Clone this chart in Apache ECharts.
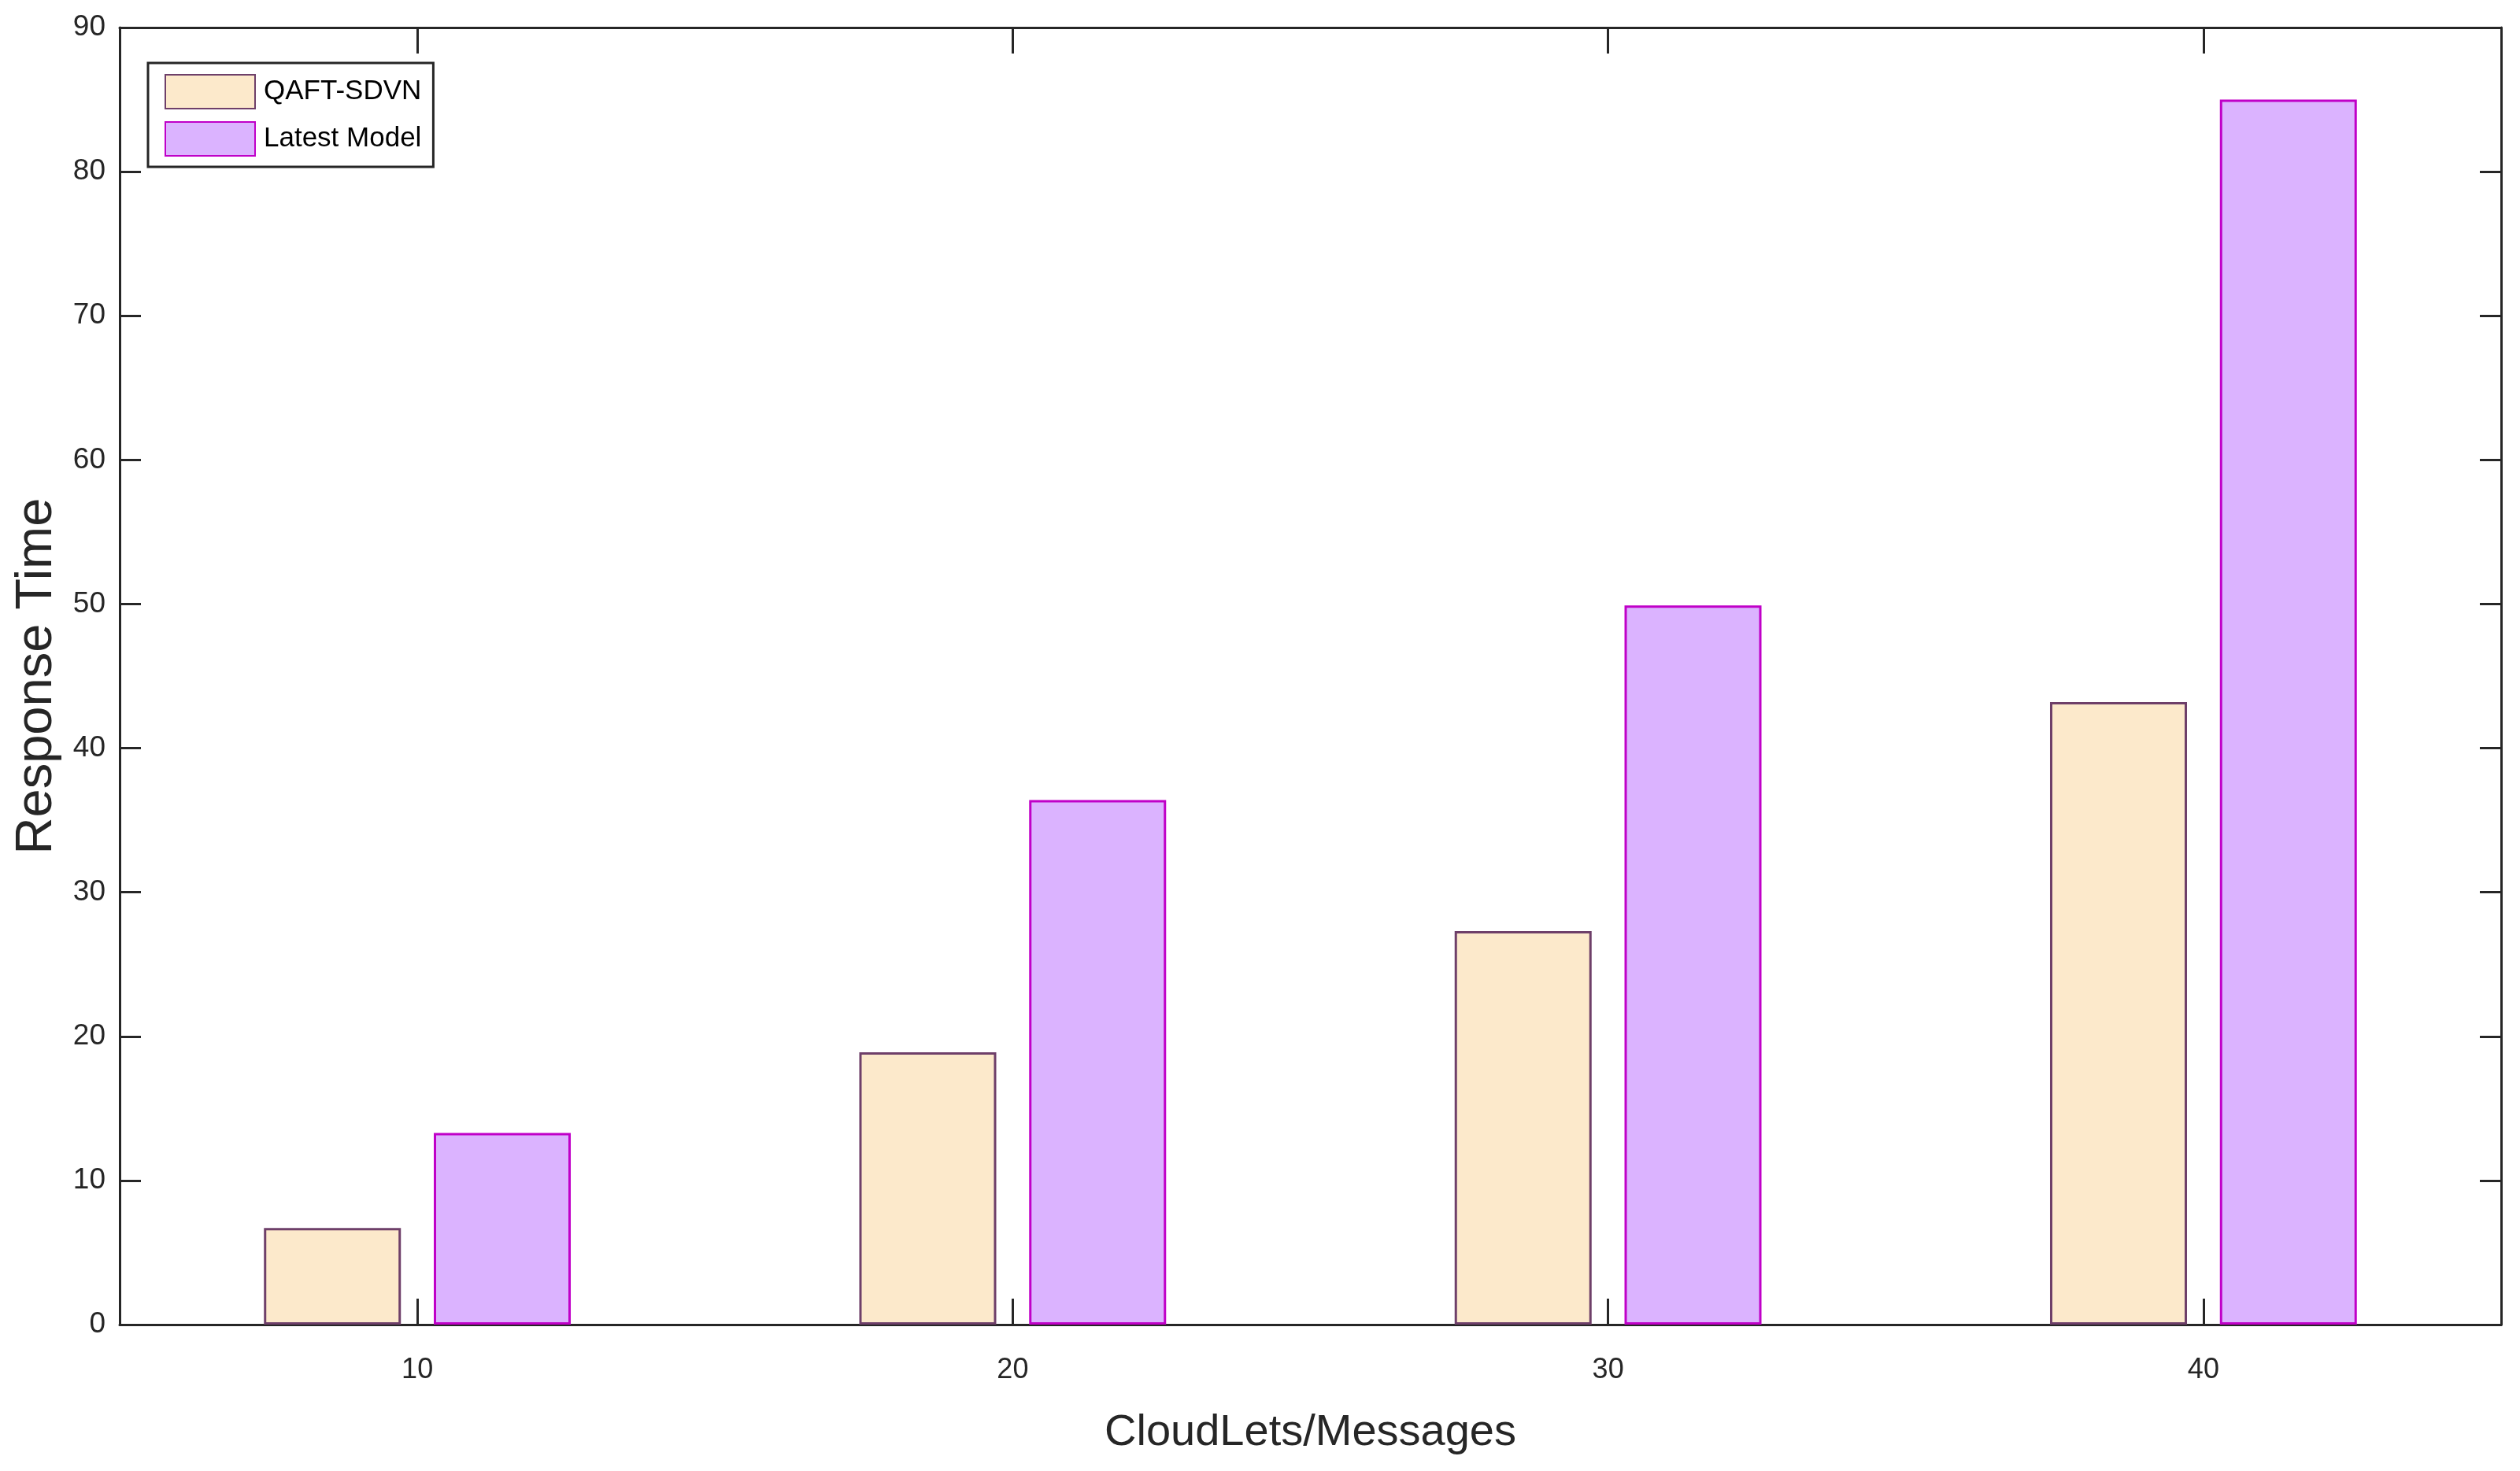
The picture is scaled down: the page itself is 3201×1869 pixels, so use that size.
<!DOCTYPE html>
<html>
<head>
<meta charset="utf-8">
<title>Response Time</title>
<script src="https://cdn.jsdelivr.net/npm/echarts@6/dist/echarts.min.js"></script>
<style>
  html, body { margin: 0; padding: 0; background: #fff; }
  #chart { width: 3201px; height: 1869px; }
</style>
</head>
<body>
<div id="chart"></div>
<script>
// data
const categories = ['10', '20', '30', '40'];
const qaftSdvn = [6.7, 18.9, 27.3, 43.2];
const latestModel = [13.3, 36.4, 49.9, 85.0];
const yTicks = { min: 0, max: 90, interval: 10 };

const axisColor = '#262626';
const font = '"Liberation Sans", Arial, Helvetica, sans-serif';

const myChart = echarts.init(document.getElementById('chart'));

// tick styles for the box edges (MATLAB style, ticks pointing in)
// a fresh object per axis so echarts doesn't share them
function xTick() {
    return { show: true, inside: true, alignWithLabel: true, interval: 0, length: 33, lineStyle: { color: axisColor, width: 3 } };
}
function yTick() {
    return { show: true, inside: true, length: 27, lineStyle: { color: axisColor, width: 3 } };
}
function boxLine() {
    return { show: true, onZero: false, lineStyle: { color: axisColor, width: 3 } };
}

const option = {
    backgroundColor: '#fff',
    animation: false,
    textStyle: { fontFamily: font },
    grid: {
        left: 152,
        right: 24,
        top: 35,
        bottom: 186,
        show: false
    },
    legend: {
        orient: 'vertical',
        left: 188,
        top: 80,
        padding: [14, 15, 13, 21],
        itemGap: 15,
        itemWidth: 114,
        itemHeight: 43,
        icon: 'rect',
        backgroundColor: '#fff',
        borderColor: axisColor,
        borderWidth: 3,
        borderRadius: 0,
        textStyle: { fontSize: 35, color: '#000', fontFamily: font, padding: [0, 0, 0, 6] },
        data: ['QAFT-SDVN', 'Latest Model']
    },
    xAxis: [
        {
            type: 'category',
            data: categories,
            position: 'bottom',
            name: 'CloudLets/Messages',
            nameLocation: 'middle',
            nameGap: 110,
            nameTextStyle: { fontSize: 56, color: axisColor, fontFamily: font },
            axisLine: boxLine(),
            axisTick: xTick(),
            axisLabel: { fontSize: 36, color: axisColor, margin: 40, interval: 0 },
            splitLine: { show: false }
        },
        {
            type: 'category',
            data: categories,
            position: 'top',
            axisLine: boxLine(),
            axisTick: xTick(),
            axisLabel: { show: false, interval: 0 },
            splitLine: { show: false }
        }
    ],
    yAxis: [
        {
            type: 'value',
            min: yTicks.min,
            max: yTicks.max,
            interval: yTicks.interval,
            position: 'left',
            name: 'Response Time',
            nameLocation: 'middle',
            nameGap: 72,
            nameTextStyle: { fontSize: 65, color: axisColor, fontFamily: font },
            axisLine: boxLine(),
            axisTick: yTick(),
            axisLabel: { fontSize: 37, color: axisColor, margin: 18 },
            splitLine: { show: false }
        },
        {
            type: 'value',
            min: yTicks.min,
            max: yTicks.max,
            interval: yTicks.interval,
            position: 'right',
            axisLine: boxLine(),
            axisTick: yTick(),
            axisLabel: { show: false },
            splitLine: { show: false }
        }
    ],
    series: [
        {
            name: 'QAFT-SDVN',
            type: 'bar',
            data: qaftSdvn,
            barWidth: 174,
            barGap: '24%',
            itemStyle: { color: '#FCE9CB', borderColor: '#6E3F69', borderWidth: 3 }
        },
        {
            name: 'Latest Model',
            type: 'bar',
            data: latestModel,
            barWidth: 174,
            barGap: '24%',
            itemStyle: { color: '#DBB3FF', borderColor: '#C000C8', borderWidth: 3 }
        }
    ]
};

myChart.setOption(option);
window.addEventListener('resize', function () {
    myChart.resize();
});
</script>
</body>
</html>
